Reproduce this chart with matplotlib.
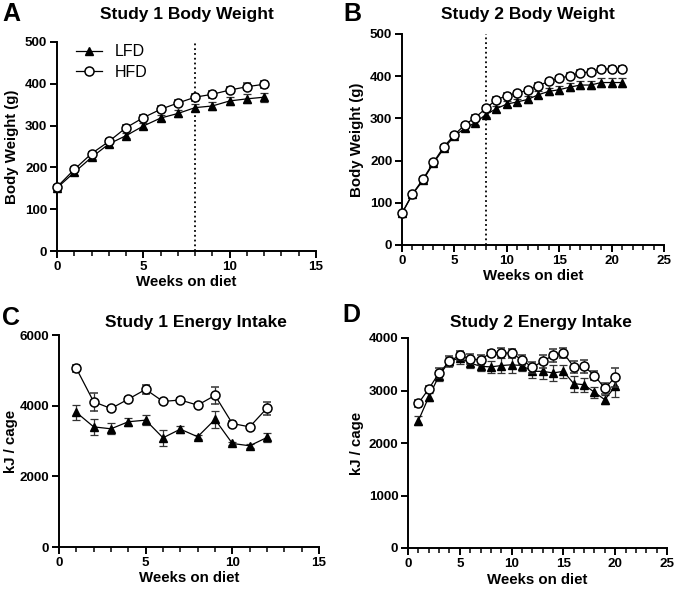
import numpy as np
import matplotlib.pyplot as plt
from matplotlib.lines import Line2D
from matplotlib.ticker import MultipleLocator

plt.rcParams['font.family'] = ['Liberation Sans', 'DejaVu Sans']

# Study 1 body weight (weeks 0-12)
s1_weeks = list(range(0, 13))
s1_lfd_bw = [151, 188, 224, 256, 276, 299, 318, 329, 343, 347, 359, 364, 368]
s1_lfd_bw_err = [4, 5, 5, 6, 6, 7, 8, 8, 9, 10, 10, 11, 11]
s1_hfd_bw = [153, 195, 233, 262, 295, 319, 339, 354, 368, 375, 385, 393, 399]
s1_hfd_bw_err = [4, 5, 5, 6, 6, 7, 7, 8, 8, 8, 8, 8, 8]

# Study 2 body weight (weeks 0-21)
s2_weeks = list(range(0, 22))
s2_lfd_bw = [75, 120, 153, 194, 229, 258, 277, 290, 309, 323, 334, 339, 345,
             356, 364, 368, 374, 379, 379, 385, 385, 385]
s2_lfd_bw_err = [3, 3, 4, 4, 5, 5, 6, 6, 6, 7, 7, 7, 8,
                 8, 8, 9, 9, 10, 10, 10, 10, 10]
s2_hfd_bw = [76, 121, 156, 196, 233, 261, 285, 302, 324, 344, 354, 360, 367,
             377, 388, 395, 401, 408, 410, 417, 417, 417]
s2_hfd_bw_err = [3, 3, 4, 4, 5, 5, 5, 6, 6, 6, 6, 6, 6,
                 6, 6, 6, 6, 6, 6, 6, 6, 6]

# Study 1 energy intake (weeks 1-12)
s1_ei_weeks = list(range(1, 13))
s1_lfd_ei = [3810, 3400, 3345, 3545, 3590, 3090, 3335, 3120, 3610, 2930, 2865, 3100]
s1_lfd_ei_err = [220, 230, 160, 110, 150, 220, 100, 50, 250, 50, 50, 140]
s1_hfd_ei = [5055, 4110, 3920, 4185, 4460, 4120, 4160, 4015, 4290, 3495, 3400, 3930]
s1_hfd_ei_err = [100, 250, 60, 60, 130, 50, 60, 60, 250, 60, 60, 180]

# Study 2 energy intake (weeks 1-20)
s2_ei_weeks = list(range(1, 21))
s2_lfd_ei = [2425, 2875, 3285, 3555, 3620, 3525, 3460, 3450, 3475, 3490,
             3475, 3365, 3365, 3335, 3365, 3130, 3110, 2965, 2825, 3080]
s2_lfd_ei_err = [80, 80, 100, 90, 110, 100, 90, 110, 150, 160,
                 100, 120, 140, 160, 130, 150, 130, 100, 90, 200]
s2_hfd_ei = [2755, 3030, 3335, 3555, 3670, 3600, 3585, 3720, 3715, 3710,
             3585, 3440, 3555, 3670, 3715, 3450, 3460, 3285, 3040, 3255]
s2_hfd_ei_err = [60, 60, 100, 100, 80, 90, 90, 60, 90, 90,
                 90, 110, 130, 130, 100, 110, 120, 80, 100, 180]

W, H = 675, 591
fig = plt.figure(figsize=(W / 100, H / 100), dpi=100)


def make_ax(left, right, top, bottom):
    return fig.add_axes([left / W, 1 - bottom / H, (right - left) / W, (bottom - top) / H])


def draw(ax, x, lfd, lfd_err, hfd, hfd_err):
    ax.errorbar(x, lfd, yerr=lfd_err, color='black', lw=0.9, marker='^', ms=6,
                mfc='black', mec='black', ecolor='#333333', elinewidth=0.9,
                capsize=3, capthick=0.9, zorder=3)
    ax.errorbar(x, hfd, yerr=hfd_err, color='black', lw=0.9, marker='o', ms=6.5,
                mfc='white', mec='black', mew=1.1, ecolor='#333333', elinewidth=0.9,
                capsize=3, capthick=0.9, zorder=4)


def style(ax, ylabel, xmax, ymax, ystep, ypad):
    ax.set_xlim(0, xmax)
    ax.set_ylim(0, ymax)
    ax.xaxis.set_major_locator(MultipleLocator(5))
    ax.xaxis.set_minor_locator(MultipleLocator(1))
    ax.yaxis.set_major_locator(MultipleLocator(ystep))
    for side in ['top', 'right']:
        ax.spines[side].set_visible(False)
    for side in ['left', 'bottom']:
        ax.spines[side].set_linewidth(1.4)
    ax.tick_params(which='major', direction='out', length=5, width=1.4,
                   labelsize=9.6, pad=2)
    ax.tick_params(which='minor', direction='out', length=3.5, width=1.1)
    for t in ax.get_xticklabels() + ax.get_yticklabels():
        t.set_fontweight('bold')
    ax.set_xlabel('Weeks on diet', fontsize=10.8, fontweight='bold', labelpad=2)
    ax.set_ylabel(ylabel, fontsize=10.8, fontweight='bold', labelpad=ypad)
    for a in ax.get_children():
        try:
            a.set_clip_on(False)
        except Exception:
            pass


axA = make_ax(57, 316, 42, 251)
draw(axA, s1_weeks, s1_lfd_bw, s1_lfd_bw_err, s1_hfd_bw, s1_hfd_bw_err)
axA.axvline(8, color='black', ls=':', lw=1.3, zorder=1)
style(axA, 'Body Weight (g)', 15, 500, 100, 4)
handles = [Line2D([], [], color='black', lw=0.9, marker='^', ms=6, mfc='black'),
           Line2D([], [], color='black', lw=0.9, marker='o', ms=6.5, mfc='white', mew=1.1)]
axA.legend(handles, ['LFD', 'HFD'], loc='upper left', frameon=False, fontsize=11.5,
           handlelength=1.6, bbox_to_anchor=(0.05, 1.02), borderaxespad=0,
           labelspacing=0.35)

axB = make_ax(402, 664, 34, 245)
draw(axB, s2_weeks, s2_lfd_bw, s2_lfd_bw_err, s2_hfd_bw, s2_hfd_bw_err)
axB.axvline(8, color='black', ls=':', lw=1.3, zorder=1)
style(axB, 'Body Weight (g)', 25, 500, 100, 4)

axC = make_ax(59, 319, 335, 547)
draw(axC, s1_ei_weeks, s1_lfd_ei, s1_lfd_ei_err, s1_hfd_ei, s1_hfd_ei_err)
style(axC, 'kJ / cage', 15, 6000, 2000, 1)

axD = make_ax(408, 667, 338, 548)
draw(axD, s2_ei_weeks, s2_lfd_ei, s2_lfd_ei_err, s2_hfd_ei, s2_hfd_ei_err)
style(axD, 'kJ / cage', 25, 4000, 1000, 3)

titles = {'Study 1 Body Weight': (187, 15), 'Study 2 Body Weight': (528, 15),
          'Study 1 Energy Intake': (196, 323), 'Study 2 Energy Intake': (541, 322)}
for txt, (px, py) in titles.items():
    fig.text(px / W, 1 - py / H, txt, fontsize=12.5, fontweight='bold',
             ha='center', va='center')

for lab, (px, py) in {'A': (2, 14), 'B': (343, 14), 'C': (2, 318), 'D': (342, 315)}.items():
    fig.text(px / W, 1 - py / H, lab, fontsize=18, fontweight='bold',
             ha='left', va='center')

fig.savefig('out.png', dpi=100)
